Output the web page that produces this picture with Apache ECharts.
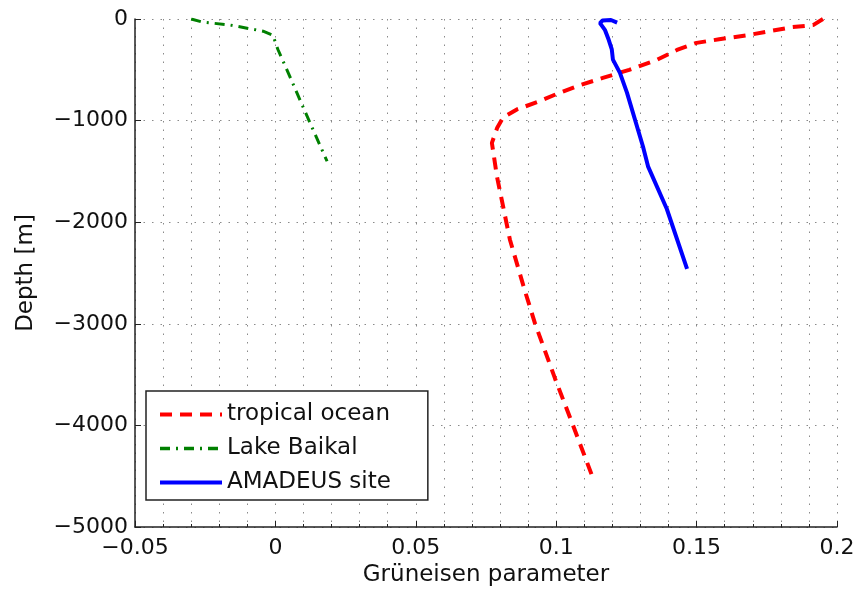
<!DOCTYPE html>
<html>
<head>
  <meta charset="UTF-8">
  <title>Grüneisen parameter vs depth</title>
  <script src="https://cdn.jsdelivr.net/npm/echarts@6/dist/echarts.min.js"></script>
</head>
<body style="margin:0">
  <div id="chart" style="width:860px;height:592px;"></div>
  <script>
    // profiles: depth [m] and Grüneisen parameter
    const tropicalDepth = [0, -60, -80, -125, -160, -200, -235, -305, -400, -500, -580, -650, -725, -815, -890, -970, -1070, -1220, -1550, -2170, -2680, -3000, -3540, -4000, -4490];
    const tropicalGamma = [0.195, 0.1915, 0.184, 0.175, 0.168, 0.158, 0.150, 0.143, 0.136, 0.126, 0.1166, 0.1085, 0.1013, 0.0935, 0.086, 0.0811, 0.079, 0.0771, 0.0789, 0.0835, 0.0889, 0.0925, 0.0996, 0.106, 0.1127];

    const baikalDepth = [0, -30, -60, -120, -160, -300, -570, -800, -1020, -1400];
    const baikalGamma = [-0.030, -0.026, -0.016, -0.0044, -0.0009, 0.0009, 0.0052, 0.0088, 0.0123, 0.0184];

    const amadeusDepth = [-35, -10, -15, -40, -110, -205, -300, -400, -530, -725, -1255, -1450, -1870, -2460];
    const amadeusGamma = [0.1217, 0.1195, 0.1165, 0.1156, 0.1174, 0.1187, 0.1198, 0.1202, 0.1227, 0.1252, 0.1309, 0.1327, 0.1394, 0.1466];

    const seriesNames = ['tropical ocean', 'Lake Baikal', 'AMADEUS site'];

    const pairs = (xs, ys) => xs.map((x, i) => [x, ys[i]]);
    const font = 'DejaVu Sans';
    const minus = s => String(s).replace('-', '\u2212');
    const dots = { color: '#8a8a8a', width: 1, type: [1.5, 7] };

    const chart = echarts.init(document.getElementById('chart'));
    const option = {
      animation: false,
      grid: { left: 135, right: 23, top: 19, bottom: 63 },
      legend: {
        orient: 'vertical',
        left: 146,
        top: 391,
        data: [
          { name: seriesNames[0], lineStyle: { width: 4 } },
          { name: seriesNames[1], lineStyle: { width: 3.5 } },
          { name: seriesNames[2], lineStyle: { width: 4 } }
        ],
        backgroundColor: '#fff',
        borderColor: '#222',
        borderWidth: 1.5,
        padding: [12, 37, 6, 12],
        itemWidth: 62,
        itemHeight: 14,
        itemGap: 11,
        itemTextGap: 11,
        itemStyle: { opacity: 0 },
        textStyle: { fontFamily: font, fontSize: 23, color: '#111' }
      },
      xAxis: {
        type: 'value',
        min: -0.05,
        max: 0.2,
        interval: 0.05,
        name: 'Grüneisen parameter',
        nameLocation: 'middle',
        nameGap: 37,
        nameTextStyle: { fontFamily: font, fontSize: 23, color: '#111' },
        axisLine: { onZero: false, lineStyle: { color: '#222', width: 1.5 } },
        axisTick: { inside: true, length: 6, lineStyle: { color: '#222' } },
        minorTick: { show: true, splitNumber: 5, length: 3, lineStyle: { color: '#222' } },
        axisLabel: {
          fontFamily: font, fontSize: 22, color: '#111', margin: 10,
          formatter: v => minus(+v.toFixed(2))
        },
        splitLine: { show: true, lineStyle: dots },
        minorSplitLine: { show: true, lineStyle: dots }
      },
      yAxis: {
        type: 'value',
        min: -5000,
        max: 0,
        interval: 1000,
        name: 'Depth [m]',
        nameLocation: 'middle',
        nameGap: 97,
        nameTextStyle: { fontFamily: font, fontSize: 23, color: '#111' },
        axisLine: { show: true, onZero: false, lineStyle: { color: '#222', width: 1.5 } },
        axisTick: { show: true, inside: true, length: 6, lineStyle: { color: '#222' } },
        axisLabel: {
          fontFamily: font, fontSize: 22, color: '#111', margin: 7,
          formatter: v => minus(v)
        },
        splitLine: { show: true, lineStyle: dots }
      },
      series: [
        {
          name: seriesNames[0],
          type: 'line',
          symbol: 'none',
          data: pairs(tropicalGamma, tropicalDepth),
          lineStyle: { color: '#ff0000', width: 4, type: [12, 8] },
          itemStyle: { color: '#ff0000' }
        },
        {
          name: seriesNames[1],
          type: 'line',
          symbol: 'none',
          data: pairs(baikalGamma, baikalDepth),
          lineStyle: { color: '#008000', width: 3, type: [10, 6, 2, 6] },
          itemStyle: { color: '#008000' }
        },
        {
          name: seriesNames[2],
          type: 'line',
          symbol: 'none',
          data: pairs(amadeusGamma, amadeusDepth),
          lineStyle: { color: '#0000ff', width: 4 },
          itemStyle: { color: '#0000ff' }
        }
      ]
    };
    chart.setOption(option);
  </script>
</body>
</html>
